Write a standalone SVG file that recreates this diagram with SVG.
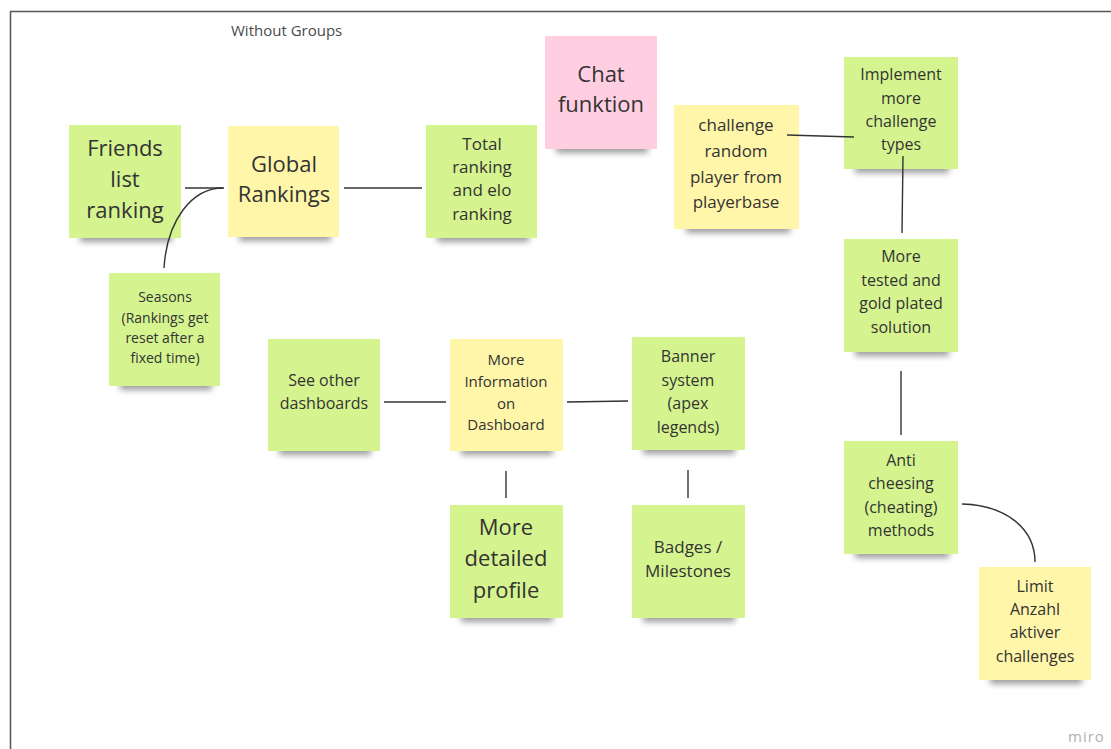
<svg xmlns="http://www.w3.org/2000/svg" width="1111" height="749" viewBox="0 0 1111 749">
  <defs>
    <filter id="soft" x="-20%" y="-100%" width="140%" height="300%">
      <feGaussianBlur stdDeviation="3"/>
    </filter>
  </defs>
  <style>
    .bg { fill: #ffffff; }
    .frame { fill: none; stroke: #555; stroke-width: 1.5; }
    .title { font-family: "Open Sans", "Liberation Sans", sans-serif; font-size: 15px; fill: #4a4a4a; }
    .brand { font-family: "Open Sans", "Liberation Sans", sans-serif; font-size: 15px; fill: #b0b0b0; letter-spacing: 1px; }
    .shadow { fill: #000; opacity: 0.38; filter: url(#soft); }
    .green { fill: #d5f48f; }
    .yellow { fill: #fff6a9; }
    .pink { fill: #ffcfe1; }
    .t { font-family: "Open Sans", "Liberation Sans", sans-serif; fill: #333; text-anchor: middle; }
    .xl { font-size: 22px; }
    .l { font-size: 17px; }
    .m { font-size: 16px; }
    .s { font-size: 15px; }
    .xs { font-size: 14px; }
    .wire { fill: none; stroke: #333; stroke-width: 1.4; }
  </style>

  <rect class="bg" x="0" y="0" width="1111" height="749"/>
  <path class="frame" d="M10.5 749 V11.5 H1111"/>
  <text class="title" x="231" y="36">Without Groups</text>

  <g id="friends-list-ranking">
    <rect class="shadow" x="80" y="228" width="92" height="14"/>
    <rect class="green" x="69" y="125" width="112" height="113"/>
    <text class="t xl" x="125" y="156">Friends</text>
    <text class="t xl" x="125" y="187">list</text>
    <text class="t xl" x="125" y="218">ranking</text>
  </g>

  <g id="global-rankings">
    <rect class="shadow" x="239" y="227" width="92" height="14"/>
    <rect class="yellow" x="228" y="126" width="111" height="111"/>
    <text class="t xl" x="284" y="172">Global</text>
    <text class="t xl" x="284" y="202">Rankings</text>
  </g>

  <g id="total-ranking">
    <rect class="shadow" x="437" y="228" width="92" height="14"/>
    <rect class="green" x="426" y="125" width="111" height="113"/>
    <text class="t l" x="482" y="150">Total</text>
    <text class="t l" x="482" y="173">ranking</text>
    <text class="t l" x="482" y="196">and elo</text>
    <text class="t l" x="482" y="220">ranking</text>
  </g>

  <g id="chat-funktion">
    <rect class="shadow" x="556" y="139" width="92" height="14"/>
    <rect class="pink" x="545" y="36" width="112" height="113"/>
    <text class="t xl" x="601" y="82">Chat</text>
    <text class="t xl" x="601" y="112">funktion</text>
  </g>

  <g id="challenge-random-player">
    <rect class="shadow" x="686" y="219" width="104" height="14"/>
    <rect class="yellow" x="674" y="105" width="125" height="124"/>
    <text class="t l" x="736" y="131">challenge</text>
    <text class="t l" x="736" y="157">random</text>
    <text class="t l" x="736" y="183">player from</text>
    <text class="t l" x="736" y="208">playerbase</text>
  </g>

  <g id="implement-more-challenge-types">
    <rect class="shadow" x="855" y="159" width="94" height="14"/>
    <rect class="green" x="844" y="57" width="114" height="112"/>
    <text class="t m" x="901" y="80">Implement</text>
    <text class="t m" x="901" y="104">more</text>
    <text class="t m" x="901" y="127">challenge</text>
    <text class="t m" x="901" y="150">types</text>
  </g>

  <g id="more-tested">
    <rect class="shadow" x="855" y="342" width="94" height="14"/>
    <rect class="green" x="844" y="239" width="114" height="113"/>
    <text class="t m" x="901" y="262">More</text>
    <text class="t m" x="901" y="286">tested and</text>
    <text class="t m" x="901" y="309">gold plated</text>
    <text class="t m" x="901" y="333">solution</text>
  </g>

  <g id="seasons">
    <rect class="shadow" x="120" y="376" width="92" height="14"/>
    <rect class="green" x="109" y="273" width="111" height="113"/>
    <text class="t xs" x="165" y="302">Seasons</text>
    <text class="t xs" x="165" y="323">(Rankings get</text>
    <text class="t xs" x="165" y="343">reset after a</text>
    <text class="t xs" x="165" y="363">fixed time)</text>
  </g>

  <g id="see-other-dashboards">
    <rect class="shadow" x="279" y="441" width="92" height="14"/>
    <rect class="green" x="268" y="339" width="112" height="112"/>
    <text class="t m" x="324" y="386">See other</text>
    <text class="t m" x="324" y="409">dashboards</text>
  </g>

  <g id="more-information-on-dashboard">
    <rect class="shadow" x="461" y="441" width="92" height="14"/>
    <rect class="yellow" x="450" y="339" width="113" height="112"/>
    <text class="t s" x="506" y="365">More</text>
    <text class="t s" x="506" y="387">Information</text>
    <text class="t s" x="506" y="409">on</text>
    <text class="t s" x="506" y="430">Dashboard</text>
  </g>

  <g id="banner-system">
    <rect class="shadow" x="643" y="440" width="92" height="14"/>
    <rect class="green" x="632" y="337" width="113" height="113"/>
    <text class="t m" x="688" y="362">Banner</text>
    <text class="t m" x="688" y="386">system</text>
    <text class="t m" x="688" y="409">(apex</text>
    <text class="t m" x="688" y="433">legends)</text>
  </g>

  <g id="more-detailed-profile">
    <rect class="shadow" x="461" y="608" width="92" height="14"/>
    <rect class="green" x="450" y="505" width="113" height="113"/>
    <text class="t xl" x="506" y="535">More</text>
    <text class="t xl" x="506" y="566">detailed</text>
    <text class="t xl" x="506" y="598">profile</text>
  </g>

  <g id="badges-milestones">
    <rect class="shadow" x="643" y="608" width="92" height="14"/>
    <rect class="green" x="632" y="505" width="113" height="113"/>
    <text class="t l" x="688" y="553">Badges /</text>
    <text class="t l" x="688" y="577">Milestones</text>
  </g>

  <g id="anti-cheesing">
    <rect class="shadow" x="855" y="544" width="94" height="14"/>
    <rect class="green" x="844" y="441" width="114" height="113"/>
    <text class="t m" x="901" y="466">Anti</text>
    <text class="t m" x="901" y="489">cheesing</text>
    <text class="t m" x="901" y="513">(cheating)</text>
    <text class="t m" x="901" y="536">methods</text>
  </g>

  <g id="limit-anzahl">
    <rect class="shadow" x="990" y="670" width="92" height="14"/>
    <rect class="yellow" x="979" y="567" width="112" height="113"/>
    <text class="t m" x="1035" y="592">Limit</text>
    <text class="t m" x="1035" y="615">Anzahl</text>
    <text class="t m" x="1035" y="638">aktiver</text>
    <text class="t m" x="1035" y="662">challenges</text>
  </g>

  <!-- connectors, drawn above the notes -->
  <g id="connectors">
    <path class="wire" d="M185 188 H224"/>
    <path class="wire" d="M223 188 C192 188 167 220 164 268"/>
    <path class="wire" d="M344 188 H422"/>
    <path class="wire" d="M787 135 L854 137"/>
    <path class="wire" d="M903 156 L902 233"/>
    <path class="wire" d="M901 371 V435"/>
    <path class="wire" d="M962 504 C1005 505 1035 528 1035 562"/>
    <path class="wire" d="M384 402 H446"/>
    <path class="wire" d="M567 402 L628 401"/>
    <path class="wire" d="M506 471 V498"/>
    <path class="wire" d="M688 470 V498"/>
  </g>

  <text class="brand" x="1068" y="742">miro</text>
</svg>
